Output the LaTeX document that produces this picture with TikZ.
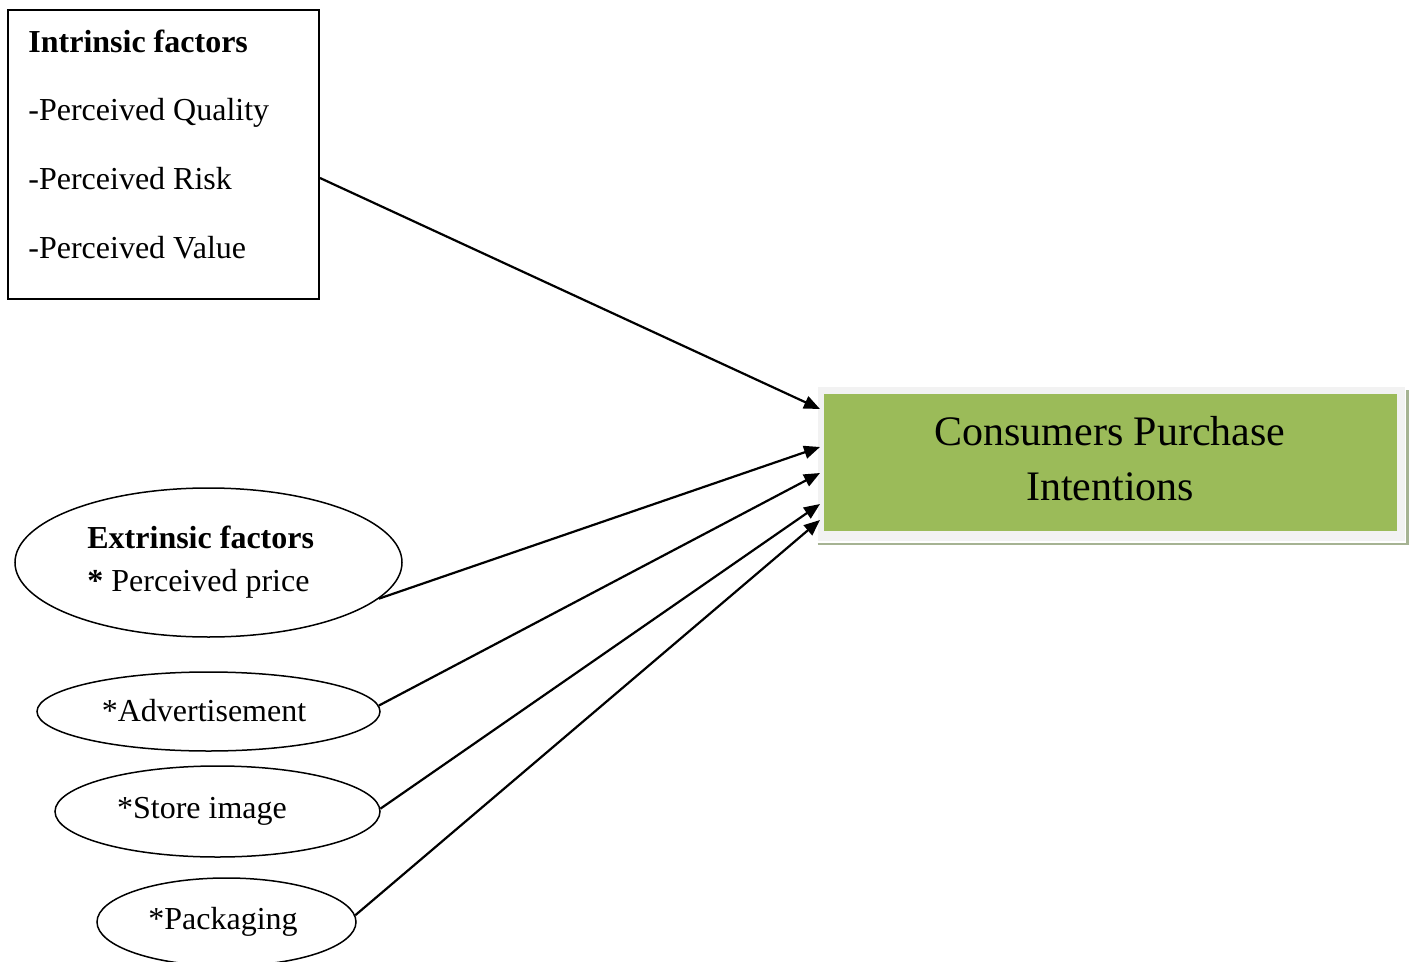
\documentclass[tikz,border=0pt]{standalone}
\usepackage{fontspec}
\setmainfont{Liberation Serif}
\usetikzlibrary{arrows.meta,shapes.geometric}
\definecolor{cpigreen}{HTML}{9BBB59}
\definecolor{cpiframe}{HTML}{F2F2F2}
\definecolor{cpishadow}{HTML}{A6B393}
\begin{document}
\begin{tikzpicture}[x=0.5pt,y=-0.5pt,
  txt/.style={font=\fontsize{16}{19}\selectfont, inner sep=0pt, anchor=base west},
  ctxt/.style={font=\fontsize{16}{19}\selectfont, inner sep=0pt, anchor=base},
  bigtxt/.style={font=\fontsize{21}{28}\selectfont, inner sep=0pt, anchor=base},
  conn/.style={line width=1.1pt, -{Triangle[length=8pt,width=6.5pt]}},
  oval/.style={draw, ellipse, line width=0.75pt, inner sep=0pt}]
\useasboundingbox (0,0) rectangle (1411,962);

% Intrinsic factors box
\node[draw, line width=1pt, minimum width=155.5pt, minimum height=144.5pt, inner sep=0pt] (intr) at (163.5,154.5) {};
\node[txt] (intrT) at (28,53) {\textbf{Intrinsic factors}};
\node[txt] (intrQ) at (28,121) {-Perceived Quality};
\node[txt] (intrR) at (28,190) {-Perceived Risk};
\node[txt] (intrV) at (28,259) {-Perceived Value};

% Target box
\node[fill=cpiframe, minimum width=293.5pt, minimum height=77pt, inner sep=0pt] (frame) at (1111.5,464) {};
\draw[cpishadow, line width=1.2pt] ([xshift=0pt,yshift=-1.2pt]frame.south west) -- ([xshift=1pt,yshift=-1.2pt]frame.south east) -- ([xshift=1pt,yshift=-1.5pt]frame.north east);
\node[fill=cpigreen, minimum width=286.5pt, minimum height=68.5pt, inner sep=0pt] (cpi) at (1110.5,462.5) {};
\node[bigtxt] (cpiT1) at (1110,445) {Consumers Purchase};
\node[bigtxt] (cpiT2) at (1110,500) {Intentions};

% Extrinsic ellipses
\node[oval, minimum width=193.5pt, minimum height=74.5pt] (ext) at (208.5,562.5) {};
\node[txt] (extT) at (87,548) {\textbf{Extrinsic factors}};
\node[txt] (extP) at (87,591) {\textbf{*} Perceived price};

\node[oval, minimum width=171.5pt, minimum height=39.5pt] (adv) at (208.5,711.5) {};
\node[ctxt] (advT) at (204,721) {*Advertisement};

\node[oval, minimum width=162.5pt, minimum height=45.5pt] (store) at (217.5,811.5) {};
\node[ctxt] (storeT) at (202,818) {*Store image};

\node[oval, minimum width=129.5pt, minimum height=44pt] (pack) at (226.5,922) {};
\node[ctxt] (packT) at (223,929) {*Packaging};

% arrow targets
\coordinate (t1) at (820,409);
\coordinate (t2) at (820,447);
\coordinate (t3) at (820,473);
\coordinate (t4) at (820,504);
\coordinate (t5) at (820,520);

\draw[conn] ([yshift=-11.75pt]intr.east) -- (t1);
\draw[conn] (ext.-12) -- (t2);
\draw[conn] (adv.2.5) -- (t3);
\draw[conn] (store.1.2) -- (t4);
\draw[conn] (pack.3) -- (t5);
\end{tikzpicture}
\end{document}
